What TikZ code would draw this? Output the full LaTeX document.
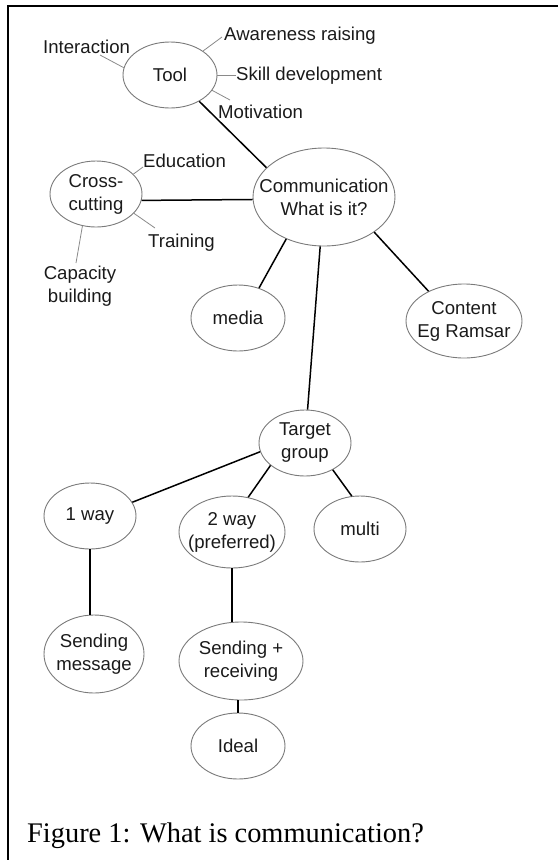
\documentclass[tikz,border=0pt]{standalone}
\usepackage{fontspec}
\setmainfont{Liberation Serif}
\newfontfamily\diagfont{Liberation Sans}
\usetikzlibrary{shapes.geometric}
\definecolor{bubgray}{HTML}{7A7A7A}
\definecolor{tickgray}{HTML}{8A8A8A}
\definecolor{inkgray}{HTML}{1A1A1A}
\begin{document}
\begin{tikzpicture}[x=1pt,y=-1pt,
  bub/.style 2 args={ellipse, draw=bubgray, line width=0.9pt, inner sep=0pt,
    minimum width=#1pt, minimum height=#2pt},
  txt/.style={font=\diagfont\fontsize{18.6}{23}\selectfont, align=center,
    inner sep=0pt, text=inkgray},
  word/.style={txt, anchor=base west},
  link/.style={line width=1.5pt, draw=black},
  tick/.style={line width=0.8pt, draw=tickgray}]

\useasboundingbox (0,0) rectangle (558,860);

% open frame: top and left rules only
\draw[line width=1.6pt] (558,6) -- (8,6) -- (8,860);

% concept bubbles
\node[bub={94}{66},  label={[txt]center:Tool}] (tool) at (170,75) {};
\node[bub={142}{98}, label={[txt]center:Communication\\What is it?}] (comm) at (324,197) {};
\node[bub={92}{66},  label={[txt]center:Cross-\\cutting}] (cc) at (96,194) {};
\node[bub={94}{66},  label={[txt]center:media}] (media) at (238,318) {};
\node[bub={116}{74}, label={[txt]center:Content\\Eg Ramsar}] (content) at (464,321) {};
\node[bub={92}{66},  label={[txt]center:Target\\group}] (tg) at (305,443) {};
\node[bub={92}{66},  label={[txt]center:1 way}] (w1) at (90,516) {};
\node[bub={106}{72}, label={[txt]center:2 way\\(preferred)}] (tw) at (232,532) {};
\node[bub={92}{66},  label={[txt]center:multi}] (multi) at (360,529) {};
\node[bub={100}{78}, label={[txt]center:Sending\\message}] (sm) at (94,654) {};
\node[bub={124}{78}, label={[txt]center:Sending +\\receiving}] (sr) at (241,661) {};
\node[bub={94}{66},  label={[txt]center:Ideal}] (ideal) at (238,746) {};

% free-standing keywords
\node[word] (interaction) at (43,53)  {Interaction};
\node[word] (awareness)   at (224,40) {Awareness raising};
\node[word] (skill)       at (236,80) {Skill development};
\node[word] (motivation)  at (218,118) {Motivation};
\node[word] (education)   at (143,167) {Education};
\node[word] (training)    at (148,247) {Training};
\node[txt, anchor=base] (capacity) at (80,302) {Capacity\\building};

% ends of the keyword ticks
\coordinate (interactionEnd) at (100,55);
\coordinate (awarenessEnd)   at (222,37);
\coordinate (skillEnd)       at (236,75);
\coordinate (motivationEnd)  at (230,100);
\coordinate (educationEnd)   at (143,167);
\coordinate (trainingEnd)    at (155,228);
\coordinate (capacityEnd)    at (76,263);

% keyword ticks
\draw[tick] (tool.171) -- (interactionEnd);
\draw[tick] (tool.36)  -- (awarenessEnd);
\draw[tick] (tool.0)   -- (skillEnd);
\draw[tick] (tool.-20) -- (motivationEnd);
\draw[tick] (cc.28)    -- (educationEnd);
\draw[tick] (cc.-27)   -- (trainingEnd);
\draw[tick] (cc.-113)  -- (capacityEnd);

% main links
\draw[link] (tool.-42) -- (comm.153);
\draw[link] (cc.-8)    -- (comm.182);
\draw[link] (comm.228) -- (media.55);
\draw[link] (comm.-35) -- (content.140);
\draw[link] (comm)     -- (tg);
\draw[link] (tg.191)   -- (w1.18);
\draw[link] (tg.213)   -- (tw.65);
\draw[link] (tg.-44)   -- (multi.104);
\draw[link] (w1.south) -- (w1.south |- sm.north);
\draw[link] (tw.south) -- (tw.south |- sr.north);
\draw[link] (ideal.north |- sr.south) -- (ideal.north);

% caption
\node[anchor=base west, inner sep=0pt, font=\fontsize{28.4}{32}\selectfont] (caption)
  at (27,842) {Figure 1: What is communication?};
\end{tikzpicture}
\end{document}
